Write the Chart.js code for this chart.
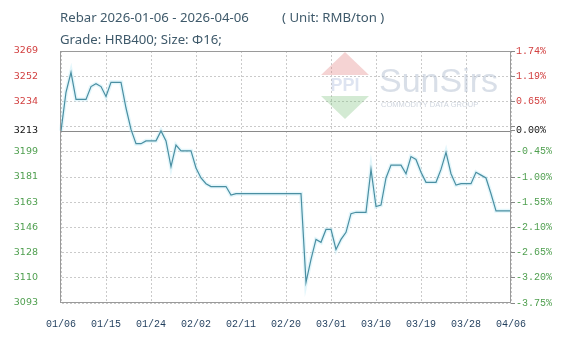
<!DOCTYPE html>
<html><head><meta charset="utf-8">
<script src="https://cdn.jsdelivr.net/npm/chart.js@4"></script>
<style>html,body{margin:0;padding:0;background:#fff}#wrap{width:581px;height:338px}</style>
</head><body><div id="wrap"><canvas id="c" width="581" height="338"></canvas></div>
<script>
const titleLine1 = 'Rebar 2026-01-06 - 2026-04-06';
const titleUnit = '( Unit: RMB/ton )';
const titleLine2 = 'Grade: HRB400; Size: \u03A616;';
const startDate = '2026-01-06';
const xTickLabels = ['01/06','01/15','01/24','02/02','02/11','02/20','03/01','03/10','03/19','03/28','04/06'];
const prices = [
  3213,3240,3254,3235,3235,3235,3244,3246,3244,3237,
  3247,3247,3247,3229,3214,3204,3204,3206,3206,3206,
  3213,3206,3188,3203,3199,3199,3199,3187,3180,3176,
  3174,3174,3174,3174,3168,3169,3169,3169,3169,3169,
  3169,3169,3169,3169,3169,3169,3169,3169,3169,3107,
  3123,3137,3135,3144,3144,3130,3137,3142,3155,3156,
  3156,3156,3186,3160,3161,3180,3189,3189,3189,3183,
  3195,3193,3184,3177,3177,3177,3186,3198,3183,3175,
  3176,3176,3176,3184,3182,3180,3169,3157,3157,3157,3157
];
const baseValue = 3213;
const baseLabel = '3213';
const basePctLabel = '0.00%';
const yGridValues = [3092.5,3110.1,3127.8,3145.4,3163.1,3180.7,3198.3,3216.0,3233.6,3251.3,3268.9];
const leftTickLabels = ['3093','3110','3128','3146','3163','3181','3199','','3234','3252','3269'];
const rightTickLabels = ['-3.75%','-3.20%','-2.65%','-2.10%','-1.55%','-1.00%','-0.45%','','0.65%','1.19%','1.74%'];

const RED = '#d24040', GREEN = '#4f9f4f', BLACK = '#111';
const GRID = '#cacaca';

const categories = [];
{
  const d0 = new Date(startDate + 'T00:00:00Z');
  for (let i = 0; i < prices.length; i++) {
    const d = new Date(d0.getTime() + i * 86400000);
    const mm = String(d.getUTCMonth() + 1).padStart(2, '0');
    const dd = String(d.getUTCDate()).padStart(2, '0');
    categories.push(mm + '/' + dd);
  }
}
const allYTicks = yGridValues.concat([baseValue]).sort((a, b) => a - b);
function labelFor(v, arr, baseTxt) {
  if (v === baseValue) return baseTxt;
  const i = yGridValues.indexOf(v);
  return i >= 0 ? arr[i] : '';
}
function tickColor(ctx) {
  const v = ctx.tick.value;
  return v > baseValue ? RED : (v < baseValue ? GREEN : BLACK);
}

const decor = {
  id: 'decor',
  beforeDraw(chart) {
    const ctx = chart.ctx;
    ctx.save();
    ctx.fillStyle = '#fff';
    ctx.fillRect(0, 0, chart.width, chart.height);
    ctx.fillStyle = '#3f5a6b';
    ctx.font = '13.2px "Noto Sans", "Open Sans", sans-serif';
    ctx.textBaseline = 'middle';
    ctx.textAlign = 'left';
    ctx.fillText(titleLine1, 60, 18);
    ctx.fillText(titleUnit, 282, 18);
    ctx.fillText(titleLine2, 60, 40);
    ctx.restore();
  },
  beforeDatasetsDraw(chart) {
    const ctx = chart.ctx;
    const a = chart.chartArea;
    ctx.save();
    ctx.fillStyle = 'rgba(226,120,120,0.33)';
    ctx.beginPath(); ctx.moveTo(345, 52); ctx.lineTo(369, 75); ctx.lineTo(321, 75); ctx.closePath(); ctx.fill();
    ctx.fillStyle = 'rgba(120,190,120,0.33)';
    ctx.beginPath(); ctx.moveTo(321, 96); ctx.lineTo(369, 96); ctx.lineTo(345, 119); ctx.closePath(); ctx.fill();
    ctx.fillStyle = 'rgba(160,178,215,0.35)';
    ctx.font = 'bold 18px "Liberation Sans", sans-serif';
    ctx.textAlign = 'center'; ctx.textBaseline = 'middle';
    ctx.fillText('PPI', 345, 86);
    ctx.fillStyle = 'rgba(180,192,210,0.5)';
    ctx.font = '34px "Liberation Sans", sans-serif';
    ctx.textAlign = 'left'; ctx.textBaseline = 'alphabetic';
    ctx.fillText('SunSirs', 379, 92);
    ctx.fillStyle = 'rgba(175,185,200,0.6)';
    ctx.font = '7.5px "Liberation Sans", sans-serif';
    ctx.fillText('COMMODITY DATA GROUP', 381, 107);
    const y = Math.round(chart.scales.y.getPixelForValue(baseValue)) + 0.5;
    ctx.strokeStyle = '#8a8a8a';
    ctx.lineWidth = 1;
    ctx.beginPath(); ctx.moveTo(a.left, y); ctx.lineTo(a.right, y); ctx.stroke();
    ctx.restore();
  },
  afterDatasetsDraw(chart) {
    const ctx = chart.ctx, a = chart.chartArea;
    ctx.save();
    ctx.strokeStyle = '#9a9a9a';
    ctx.lineWidth = 1;
    ctx.strokeRect(a.left - 0.5, a.top + 0.5, a.right - a.left, a.bottom - a.top - 1);
    ctx.restore();
  }
};

new Chart(document.getElementById('c'), {
  type: 'line',
  data: {
    labels: categories,
    datasets: [
      { data: prices, borderColor: '#4a8fa2', borderWidth: 1.2, pointRadius: 0, tension: 0, fill: false, order: 0 },
      { data: prices, borderColor: 'rgba(200,238,248,0.5)', borderWidth: 4, pointRadius: 0, tension: 0, fill: false, order: 1 }
    ]
  },
  options: {
    responsive: false,
    animation: false,
    devicePixelRatio: 1,
    layout: { padding: { top: 51, left: 0, right: 0, bottom: 0 } },
    plugins: { legend: { display: false }, tooltip: { enabled: false }, title: { display: false } },
    scales: {
      x: {
        type: 'category',
        offset: false,
        afterFit(s) { s.height = 35; },
        border: { display: true, color: 'rgba(0,0,0,0)', dash: [2, 2] },
        grid: {
          display: true, drawOnChartArea: true, drawTicks: false, lineWidth: 1,
          color: ctx => xTickLabels.includes(categories[ctx.index]) ? GRID : 'rgba(0,0,0,0)'
        },
        ticks: {
          autoSkip: false, maxRotation: 0, padding: 15,
          color: '#1f3d5c',
          font: { family: '"Liberation Mono", monospace', size: 10 },
          callback: (v, i) => xTickLabels.includes(categories[i]) ? categories[i] : ''
        }
      },
      y: {
        type: 'linear', position: 'left',
        min: yGridValues[0], max: yGridValues[yGridValues.length - 1],
        afterFit(s) { s.width = 61; },
        afterBuildTicks(s) { s.ticks = allYTicks.map(v => ({ value: v })); },
        border: { display: true, color: 'rgba(0,0,0,0)', dash: [2, 2] },
        grid: {
          display: true, drawOnChartArea: true, drawTicks: false, lineWidth: 1,
          color: ctx => (ctx.tick && ctx.tick.value === baseValue) ? 'rgba(0,0,0,0)' : GRID
        },
        ticks: {
          autoSkip: false, padding: 23,
          color: tickColor,
          font: { family: '"DejaVu Sans", sans-serif', size: 9.5 },
          callback: v => labelFor(v, leftTickLabels, baseLabel)
        }
      },
      y2: {
        type: 'linear', position: 'right',
        min: yGridValues[0], max: yGridValues[yGridValues.length - 1],
        afterFit(s) { s.width = 70; },
        afterBuildTicks(s) { s.ticks = allYTicks.map(v => ({ value: v })); },
        border: { display: false },
        grid: {
          drawOnChartArea: false, drawTicks: true, tickLength: 4,
          tickColor: '#888'
        },
        ticks: {
          autoSkip: false, padding: 1,
          color: tickColor,
          font: { family: '"Liberation Mono", monospace', size: 10 },
          callback: v => labelFor(v, rightTickLabels, basePctLabel)
        }
      }
    }
  },
  plugins: [decor]
});
</script>
</body></html>
